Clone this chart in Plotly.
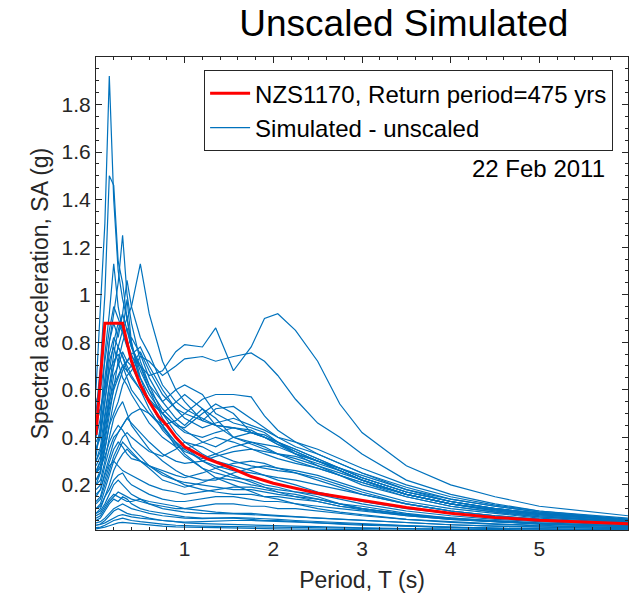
import plotly.graph_objects as go

# Period grid (s) shared by the simulated spectra
periods = [0, 0.05, 0.1, 0.15, 0.2, 0.25, 0.3, 0.35, 0.4, 0.5, 0.6, 0.75, 0.9, 1.0,
           1.2, 1.35, 1.55, 1.75, 1.9, 2.05, 2.25, 2.5, 2.75, 3.0, 3.5, 4.0, 4.5, 5.0, 6.0]

# NZS1170 design spectrum (return period 475 yrs)
nzs_T = [0, 0.1, 0.3, 0.4, 0.5, 0.6, 0.7, 0.8, 0.9, 1.0, 1.25, 1.5, 1.75, 2.0,
         2.5, 3.0, 3.5, 4.0, 4.5, 5.0, 5.5, 6.0]
nzs_SA = [0.41, 0.88, 0.88, 0.72, 0.62, 0.55, 0.49, 0.45, 0.40, 0.36, 0.31, 0.275,
          0.235, 0.207, 0.165, 0.135, 0.105, 0.08, 0.063, 0.051, 0.043, 0.036]

# Simulated (unscaled) spectra, SA (g) at each period of `periods`
sim_c1 = [0.60, 0.95, 1.30, 1.92, 1.40, 1.10, 0.98, 0.90, 0.80, 0.65, 0.55, 0.45, 0.38, 0.33, 0.27, 0.23, 0.20, 0.17, 0.15, 0.14, 0.12, 0.10, 0.085, 0.075, 0.055, 0.042, 0.033, 0.027, 0.019]
sim_c2 = [0.50, 0.70, 1.00, 1.50, 1.46, 1.14, 1.05, 0.90, 0.78, 0.70, 0.60, 0.48, 0.40, 0.36, 0.30, 0.27, 0.24, 0.21, 0.19, 0.17, 0.15, 0.13, 0.11, 0.095, 0.07, 0.055, 0.045, 0.036, 0.025]
sim_c3 = [0.35, 0.42, 0.60, 0.80, 0.92, 1.05, 1.25, 1.00, 0.88, 0.72, 0.62, 0.50, 0.42, 0.38, 0.33, 0.30, 0.28, 0.26, 0.24, 0.22, 0.20, 0.17, 0.15, 0.13, 0.10, 0.08, 0.06, 0.05, 0.035]
sim_c4 = [0.32, 0.45, 0.75, 0.92, 1.13, 0.95, 0.85, 0.98, 0.80, 0.62, 0.55, 0.45, 0.36, 0.32, 0.27, 0.25, 0.23, 0.22, 0.20, 0.19, 0.17, 0.15, 0.12, 0.10, 0.075, 0.06, 0.047, 0.038, 0.027]
sim_c5 = [0.28, 0.32, 0.45, 0.58, 0.70, 0.78, 0.85, 0.90, 0.95, 1.13, 0.92, 0.72, 0.60, 0.55, 0.47, 0.45, 0.44, 0.43, 0.40, 0.37, 0.33, 0.30, 0.26, 0.22, 0.16, 0.12, 0.095, 0.075, 0.05]
sim_c6 = [0.25, 0.30, 0.48, 0.62, 0.75, 0.85, 0.92, 1.06, 0.95, 0.82, 0.75, 0.62, 0.55, 0.52, 0.48, 0.45, 0.44, 0.42, 0.40, 0.38, 0.35, 0.31, 0.27, 0.23, 0.17, 0.13, 0.10, 0.08, 0.055]
sim_A = [0.30, 0.34, 0.45, 0.55, 0.62, 0.66, 0.70, 0.72, 0.74, 0.70, 0.66, 0.68, 0.76, 0.79, 0.78, 0.86, 0.68, 0.78, 0.90, 0.92, 0.85, 0.72, 0.54, 0.42, 0.28, 0.20, 0.15, 0.11, 0.07]
sim_B = [0.22, 0.25, 0.35, 0.45, 0.50, 0.55, 0.62, 0.66, 0.68, 0.74, 0.72, 0.66, 0.70, 0.73, 0.74, 0.72, 0.74, 0.755, 0.72, 0.66, 0.56, 0.46, 0.40, 0.33, 0.22, 0.16, 0.12, 0.09, 0.055]
sim_C = [0.18, 0.20, 0.28, 0.35, 0.40, 0.42, 0.45, 0.48, 0.50, 0.52, 0.50, 0.45, 0.47, 0.50, 0.56, 0.58, 0.58, 0.57, 0.49, 0.43, 0.38, 0.33, 0.29, 0.25, 0.18, 0.13, 0.10, 0.08, 0.05]
sim_D = [0.25, 0.28, 0.40, 0.52, 0.60, 0.65, 0.70, 0.68, 0.65, 0.60, 0.55, 0.50, 0.45, 0.44, 0.50, 0.54, 0.50, 0.42, 0.40, 0.38, 0.33, 0.28, 0.24, 0.20, 0.15, 0.11, 0.085, 0.065, 0.045]
sim_E1 = [0.55, 0.60, 0.72, 0.85, 0.95, 0.90, 0.85, 0.80, 0.75, 0.65, 0.58, 0.50, 0.45, 0.42, 0.40, 0.42, 0.44, 0.42, 0.40, 0.37, 0.34, 0.30, 0.26, 0.22, 0.16, 0.12, 0.09, 0.07, 0.045]
sim_E2 = [0.40, 0.48, 0.65, 0.80, 0.88, 0.82, 0.92, 0.85, 0.78, 0.70, 0.62, 0.55, 0.60, 0.62, 0.58, 0.50, 0.46, 0.44, 0.42, 0.38, 0.34, 0.30, 0.27, 0.24, 0.18, 0.14, 0.11, 0.085, 0.055]
sim_E3 = [0.35, 0.40, 0.55, 0.68, 0.80, 0.88, 0.84, 0.78, 0.82, 0.75, 0.65, 0.55, 0.48, 0.45, 0.52, 0.48, 0.40, 0.38, 0.37, 0.36, 0.33, 0.30, 0.27, 0.23, 0.17, 0.13, 0.10, 0.08, 0.05]
sim_E4 = [0.20, 0.25, 0.38, 0.50, 0.62, 0.72, 0.80, 0.86, 0.78, 0.68, 0.60, 0.52, 0.46, 0.43, 0.38, 0.36, 0.40, 0.42, 0.41, 0.38, 0.35, 0.31, 0.27, 0.23, 0.17, 0.13, 0.10, 0.08, 0.05]
sim_E5 = [0.45, 0.52, 0.62, 0.75, 0.82, 0.78, 0.74, 0.70, 0.66, 0.60, 0.52, 0.43, 0.37, 0.34, 0.31, 0.33, 0.36, 0.38, 0.36, 0.33, 0.30, 0.27, 0.24, 0.21, 0.15, 0.11, 0.085, 0.065, 0.042]
sim_E6 = [0.30, 0.36, 0.50, 0.62, 0.70, 0.78, 0.74, 0.68, 0.70, 0.76, 0.68, 0.58, 0.52, 0.50, 0.47, 0.52, 0.53, 0.48, 0.44, 0.40, 0.36, 0.33, 0.29, 0.25, 0.19, 0.14, 0.11, 0.085, 0.055]
sim_E7 = [0.38, 0.42, 0.55, 0.72, 0.78, 0.72, 0.65, 0.62, 0.58, 0.52, 0.46, 0.40, 0.36, 0.35, 0.38, 0.40, 0.38, 0.35, 0.33, 0.31, 0.29, 0.27, 0.24, 0.21, 0.16, 0.12, 0.09, 0.07, 0.045]
sim_E8 = [0.26, 0.30, 0.42, 0.55, 0.66, 0.70, 0.76, 0.72, 0.70, 0.62, 0.56, 0.50, 0.55, 0.58, 0.52, 0.45, 0.40, 0.37, 0.35, 0.33, 0.32, 0.29, 0.26, 0.22, 0.16, 0.12, 0.095, 0.075, 0.05]
sim_E9 = [0.48, 0.52, 0.60, 0.68, 0.72, 0.75, 0.70, 0.65, 0.60, 0.55, 0.50, 0.44, 0.38, 0.35, 0.30, 0.28, 0.26, 0.25, 0.24, 0.23, 0.22, 0.20, 0.18, 0.16, 0.12, 0.09, 0.07, 0.055, 0.035]
sim_E10 = [0.22, 0.26, 0.35, 0.45, 0.55, 0.62, 0.68, 0.72, 0.75, 0.78, 0.70, 0.60, 0.52, 0.48, 0.44, 0.46, 0.48, 0.45, 0.43, 0.40, 0.38, 0.35, 0.31, 0.27, 0.20, 0.15, 0.115, 0.09, 0.06]
sim_F1 = [0.15, 0.18, 0.25, 0.32, 0.38, 0.42, 0.45, 0.48, 0.46, 0.42, 0.38, 0.33, 0.30, 0.29, 0.30, 0.32, 0.34, 0.35, 0.34, 0.33, 0.31, 0.28, 0.25, 0.22, 0.16, 0.12, 0.095, 0.075, 0.05]
sim_F2 = [0.20, 0.22, 0.30, 0.40, 0.48, 0.52, 0.55, 0.50, 0.45, 0.40, 0.35, 0.30, 0.26, 0.24, 0.22, 0.22, 0.25, 0.27, 0.28, 0.27, 0.26, 0.24, 0.21, 0.18, 0.13, 0.10, 0.08, 0.06, 0.04]
sim_F3 = [0.12, 0.14, 0.20, 0.26, 0.32, 0.36, 0.40, 0.42, 0.40, 0.37, 0.34, 0.32, 0.35, 0.38, 0.36, 0.33, 0.30, 0.28, 0.27, 0.26, 0.25, 0.23, 0.20, 0.17, 0.12, 0.09, 0.07, 0.055, 0.035]
sim_F4 = [0.25, 0.27, 0.32, 0.38, 0.42, 0.45, 0.43, 0.40, 0.36, 0.32, 0.28, 0.24, 0.22, 0.21, 0.20, 0.19, 0.18, 0.18, 0.17, 0.16, 0.15, 0.14, 0.12, 0.11, 0.08, 0.06, 0.05, 0.04, 0.027]
sim_F5 = [0.10, 0.12, 0.18, 0.24, 0.30, 0.34, 0.38, 0.36, 0.34, 0.30, 0.28, 0.26, 0.24, 0.23, 0.25, 0.27, 0.29, 0.30, 0.29, 0.27, 0.25, 0.22, 0.19, 0.16, 0.12, 0.09, 0.07, 0.055, 0.035]
sim_F6 = [0.16, 0.18, 0.24, 0.30, 0.35, 0.38, 0.36, 0.33, 0.31, 0.30, 0.28, 0.25, 0.22, 0.20, 0.18, 0.17, 0.16, 0.16, 0.15, 0.15, 0.14, 0.13, 0.11, 0.10, 0.075, 0.058, 0.046, 0.037, 0.025]
sim_F7 = [0.08, 0.10, 0.15, 0.20, 0.26, 0.30, 0.33, 0.35, 0.33, 0.30, 0.27, 0.22, 0.20, 0.19, 0.21, 0.23, 0.22, 0.20, 0.19, 0.18, 0.17, 0.16, 0.14, 0.12, 0.09, 0.07, 0.055, 0.045, 0.03]
sim_F8 = [0.13, 0.15, 0.22, 0.28, 0.30, 0.28, 0.26, 0.25, 0.24, 0.22, 0.20, 0.18, 0.17, 0.16, 0.17, 0.18, 0.19, 0.19, 0.18, 0.17, 0.16, 0.14, 0.12, 0.10, 0.075, 0.057, 0.045, 0.036, 0.024]
sim_G1 = [0.06, 0.07, 0.10, 0.13, 0.15, 0.17, 0.16, 0.15, 0.14, 0.13, 0.12, 0.11, 0.10, 0.10, 0.11, 0.12, 0.12, 0.11, 0.11, 0.10, 0.10, 0.09, 0.08, 0.07, 0.055, 0.045, 0.036, 0.03, 0.02]
sim_G2 = [0.05, 0.06, 0.09, 0.12, 0.14, 0.13, 0.15, 0.14, 0.12, 0.10, 0.09, 0.08, 0.07, 0.065, 0.06, 0.06, 0.06, 0.055, 0.05, 0.05, 0.045, 0.04, 0.035, 0.03, 0.025, 0.02, 0.017, 0.015, 0.011]
sim_G3 = [0.04, 0.045, 0.06, 0.08, 0.10, 0.11, 0.12, 0.11, 0.10, 0.09, 0.08, 0.07, 0.065, 0.06, 0.058, 0.06, 0.062, 0.06, 0.058, 0.055, 0.05, 0.045, 0.04, 0.035, 0.028, 0.022, 0.018, 0.015, 0.011]
sim_G4 = [0.03, 0.035, 0.05, 0.07, 0.09, 0.10, 0.09, 0.08, 0.075, 0.07, 0.06, 0.05, 0.045, 0.04, 0.037, 0.035, 0.033, 0.031, 0.03, 0.028, 0.026, 0.024, 0.021, 0.019, 0.016, 0.013, 0.011, 0.01, 0.008]
sim_G5 = [0.08, 0.09, 0.12, 0.16, 0.20, 0.22, 0.20, 0.18, 0.16, 0.14, 0.12, 0.10, 0.09, 0.085, 0.08, 0.08, 0.078, 0.075, 0.07, 0.068, 0.065, 0.06, 0.055, 0.05, 0.04, 0.032, 0.026, 0.022, 0.015]
sim_G6 = [0.02, 0.022, 0.03, 0.04, 0.05, 0.055, 0.06, 0.055, 0.05, 0.045, 0.04, 0.035, 0.03, 0.028, 0.026, 0.025, 0.024, 0.023, 0.022, 0.021, 0.02, 0.018, 0.016, 0.015, 0.013, 0.011, 0.01, 0.009, 0.007]
sim_G7 = [0.10, 0.11, 0.15, 0.18, 0.22, 0.24, 0.25, 0.22, 0.20, 0.18, 0.16, 0.14, 0.13, 0.13, 0.14, 0.15, 0.15, 0.14, 0.13, 0.13, 0.12, 0.11, 0.10, 0.09, 0.07, 0.055, 0.045, 0.036, 0.025]
sim_G8 = [0.07, 0.08, 0.11, 0.14, 0.16, 0.15, 0.14, 0.13, 0.13, 0.14, 0.13, 0.12, 0.11, 0.10, 0.09, 0.085, 0.08, 0.08, 0.075, 0.07, 0.066, 0.06, 0.055, 0.05, 0.04, 0.032, 0.026, 0.022, 0.016]
sim_G9 = [0.03, 0.033, 0.04, 0.05, 0.06, 0.07, 0.075, 0.07, 0.065, 0.06, 0.055, 0.05, 0.045, 0.043, 0.045, 0.048, 0.05, 0.05, 0.048, 0.046, 0.044, 0.04, 0.036, 0.032, 0.026, 0.021, 0.017, 0.014, 0.01]
sim_G10 = [0.015, 0.017, 0.022, 0.028, 0.035, 0.04, 0.042, 0.04, 0.037, 0.033, 0.03, 0.026, 0.023, 0.022, 0.02, 0.019, 0.018, 0.017, 0.016, 0.015, 0.014, 0.013, 0.012, 0.011, 0.009, 0.008, 0.007, 0.006, 0.005]

simulated = [sim_c1, sim_c2, sim_c3, sim_c4, sim_c5, sim_c6, sim_A, sim_B, sim_C, sim_D,
             sim_E1, sim_E2, sim_E3, sim_E4, sim_E5, sim_E6, sim_E7, sim_E8, sim_E9, sim_E10,
             sim_F1, sim_F2, sim_F3, sim_F4, sim_F5, sim_F6, sim_F7, sim_F8,
             sim_G1, sim_G2, sim_G3, sim_G4, sim_G5, sim_G6, sim_G7, sim_G8, sim_G9, sim_G10]

x_ticks = [1, 2, 3, 4, 5]
y_ticks = [0.2, 0.4, 0.6, 0.8, 1.0, 1.2, 1.4, 1.6, 1.8]
y_ticklabels = ["0.2", "0.4", "0.6", "0.8", "1", "1.2", "1.4", "1.6", "1.8"]

FONT = "Liberation Sans, Arial, Helvetica, sans-serif"
AX = "#262626"
BLUE = "#0072BD"

fig = go.Figure()
for i, sa in enumerate(simulated):
    fig.add_trace(go.Scatter(
        x=periods, y=sa, mode="lines",
        line=dict(color=BLUE, width=1.2),
        name="Simulated - unscaled", legendgroup="sim",
        showlegend=(i == 0), legendrank=2, hoverinfo="skip"))

fig.add_trace(go.Scatter(
    x=nzs_T, y=nzs_SA, mode="lines",
    line=dict(color="#FF0000", width=3),
    name="NZS1170, Return period=475 yrs", legendrank=1))

axis_common = dict(
    showline=True, linecolor=AX, linewidth=1, mirror="allticks",
    ticks="inside", ticklen=6, tickcolor=AX, tickwidth=1,
    showgrid=False, zeroline=False,
    tickfont=dict(family=FONT, size=21, color=AX),
)

fig.update_xaxes(
    range=[0, 6], tickvals=x_ticks, ticktext=[str(v) for v in x_ticks],
    minor=dict(ticks="inside", ticklen=3, tickcolor=AX, dtick=0.2, tick0=0, showgrid=False),
    title=dict(text="Period, T (s)", font=dict(family=FONT, size=23, color=AX), standoff=12),
    **axis_common)
fig.update_yaxes(
    range=[0.01, 2.0], tickvals=y_ticks, ticktext=y_ticklabels,
    minor=dict(ticks="inside", ticklen=3, tickcolor=AX, dtick=0.05, tick0=0, showgrid=False),
    title=dict(text="Spectral acceleration, SA (g)", font=dict(family=FONT, size=23, color=AX), standoff=6),
    **axis_common)

fig.update_layout(
    width=641, height=606,
    margin=dict(l=96, r=13, t=57, b=76),
    paper_bgcolor="white", plot_bgcolor="white",
    title=dict(text="Unscaled Simulated", x=0.63, xanchor="center", xref="container",
               y=0.962, yanchor="middle", yref="container",
               font=dict(family=FONT, size=37, color="black")),
    legend=dict(x=0.972, xanchor="right", y=0.972, yanchor="top",
                bgcolor="white", bordercolor=AX, borderwidth=1,
                font=dict(family=FONT, size=24, color="black"),
                tracegroupgap=0, itemwidth=40),
    annotations=[dict(text="22 Feb 2011", xref="paper", yref="paper",
                      x=0.96, xanchor="right", y=0.765, yanchor="middle",
                      showarrow=False, font=dict(family=FONT, size=24, color="black"))],
    showlegend=True,
)

fig.write_html("out.html")
